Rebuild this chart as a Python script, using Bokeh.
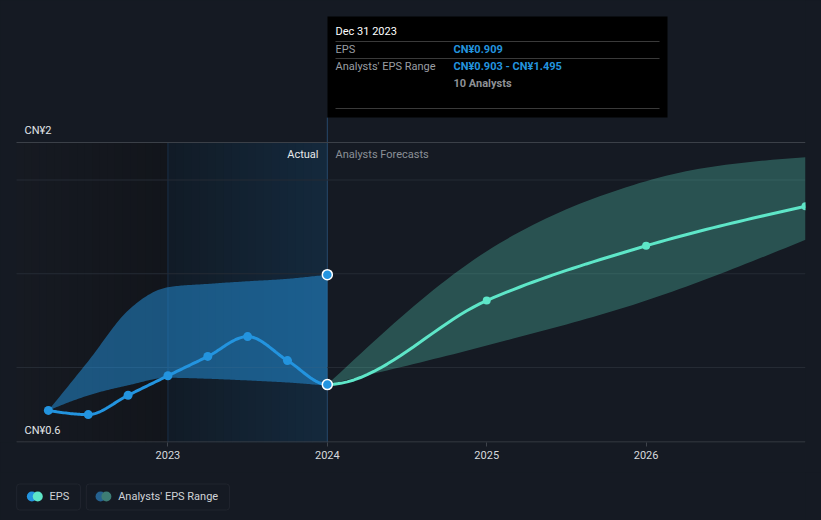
from bokeh.plotting import figure
from bokeh.layouts import column
from bokeh.models import BoxAnnotation, Label, FixedTicker, Range1d, InlineStyleSheet
from bokeh.embed import file_html
from bokeh.resources import INLINE

# ---------------- data ----------------
actual_dates = [2022.25, 2022.5, 2022.75, 2023.0, 2023.25, 2023.5, 2023.75, 2024.0]
actual_eps = [0.771, 0.749, 0.852, 0.956, 1.059, 1.165, 1.037, 0.909]
actual_range_low = [0.771, 0.851, 0.905, 0.945, 0.940, 0.931, 0.920, 0.903]
actual_range_high = [0.771, 1.034, 1.304, 1.428, 1.446, 1.460, 1.473, 1.495]

forecast_dates = [2024.0, 2025.0, 2026.0, 2027.0]
forecast_eps = [0.909, 1.357, 1.649, 1.860]
forecast_low = [0.909, 1.117, 1.357, 1.681]
forecast_high = [0.909, 1.620, 1.994, 2.122]

year_ticks = [2023, 2024, 2025, 2026]
year_labels = ["2023", "2024", "2025", "2026"]
grid_values = [1.0, 1.5, 2.0]
y_top_label = "CN¥2"
y_bottom_label = "CN¥0.6"
tooltip_date = "Dec 31 2023"
analyst_count = 10
legend_labels = ["EPS", "Analysts' EPS Range"]

# ---------------- layout constants ----------------
W = 821
MAIN_H = 472          # frame 0..442 + 30px axis panel
LEG_H = 520 - MAIN_H
FL, FR, FT, FB = 16, 805, 142, 442   # plotting area (pixels)
X0, X1 = 2022.05, 2027.0             # x at FL / FR
Y0, Y1 = 0.6, 2.2                    # y at FB / FT
BG = "#151a23"
FONT = "Roboto"
BLUE = "#2394df"
TEAL = "#5ee6c8"

XPP = (X1 - X0) / (FR - FL)
YPP = (Y1 - Y0) / (FB - FT)

NO_BORDER = InlineStyleSheet(css="""
:host { border: none !important; outline: none !important; box-shadow: none !important; background-color: %s !important; }
canvas, svg, div { border: none !important; outline: none !important; box-shadow: none !important; }
""" % BG)


def dx(px):
    return X0 + (px - FL) * XPP


def dy(py):
    return Y0 + (FB - py) * YPP


def sign(v):
    return -1.0 if v < 0 else 1.0


def monotone(xs, ys, n=24):
    """Monotone cubic (d3 curveMonotoneX style) drawing path through the points."""
    m = len(xs)
    h = [xs[i + 1] - xs[i] for i in range(m - 1)]
    s = [(ys[i + 1] - ys[i]) / h[i] for i in range(m - 1)]
    t = [0.0] * m
    for i in range(1, m - 1):
        s0, s1, h0, h1 = s[i - 1], s[i], h[i - 1], h[i]
        pp = (s0 * h1 + s1 * h0) / (h0 + h1)
        t[i] = (sign(s0) + sign(s1)) * min(abs(s0), abs(s1), 0.5 * abs(pp))
    if m > 2:
        t[0] = (3 * s[0] - t[1]) / 2
        t[-1] = (3 * s[-1] - t[-2]) / 2
    else:
        t[0] = t[-1] = s[0]
    ox, oy = [xs[0]], [ys[0]]
    for i in range(m - 1):
        for k in range(1, n + 1):
            u = k / n
            h00 = 2 * u ** 3 - 3 * u ** 2 + 1
            h10 = u ** 3 - 2 * u ** 2 + u
            h01 = -2 * u ** 3 + 3 * u ** 2
            h11 = u ** 3 - u ** 2
            ox.append(xs[i] + u * h[i])
            oy.append(h00 * ys[i] + h10 * h[i] * t[i] + h01 * ys[i + 1] + h11 * h[i] * t[i + 1])
    return ox, oy


def strip_borders(fig):
    fig.background_fill_color = BG
    fig.border_fill_color = BG
    fig.outline_line_color = None
    fig.styles = {"background-color": BG}
    fig.stylesheets = [NO_BORDER]


# frame spans pixels 0..805 horizontally and 0..442 vertically
p = figure(width=W, height=MAIN_H, output_backend="svg", toolbar_location=None,
           x_range=Range1d(dx(0), X1), y_range=Range1d(Y0, dy(0)),
           y_axis_location=None,
           min_border_left=0, min_border_right=W - FR, min_border_top=0,
           min_border_bottom=MAIN_H - FB)
strip_borders(p)
p.xgrid.visible = False
p.ygrid.visible = False

# x axis
ax = p.xaxis[0]
ax.ticker = FixedTicker(ticks=year_ticks)
ax.major_label_overrides = {t: l for t, l in zip(year_ticks, year_labels)}
ax.axis_line_color = None
ax.major_tick_line_color = "#3e434b"
ax.major_tick_in = 0
ax.major_tick_out = 4
ax.minor_tick_line_color = None
ax.major_label_standoff = 4
ax.major_label_text_color = "#d6d9dd"
ax.major_label_text_font = FONT
ax.major_label_text_font_size = "11px"


# background shading of the past region (gradient via strips)
def lerp_color(c1, c2, f):
    a = [int(c1[i:i + 2], 16) for i in (1, 3, 5)]
    b = [int(c2[i:i + 2], 16) for i in (1, 3, 5)]
    return "#%02x%02x%02x" % tuple(int(round(a[j] + (b[j] - a[j]) * f)) for j in range(3))


NS = 20
for seg_start, seg_end, c1, c2 in [(X0, 2023.0, "#161a22", "#12151b"),
                                   (2023.0, 2024.0, "#111b26", "#14293d")]:
    for k in range(NS):
        l = seg_start + (seg_end - seg_start) * k / NS
        r = seg_start + (seg_end - seg_start) * (k + 1) / NS
        if k < NS - 1:
            r += 1.5 * XPP
        p.add_layout(BoxAnnotation(left=l, right=r, top=Y1, bottom=Y0,
                                   fill_color=lerp_color(c1, c2, (k + 0.5) / NS),
                                   fill_alpha=1.0, line_color=None, level="image"))

# horizontal grid lines, top line and baseline
p.segment(x0=[X0] * len(grid_values), x1=[X1] * len(grid_values), y0=grid_values, y1=grid_values,
          line_color="#252b34", line_width=1)
p.segment(x0=[X0], x1=[X1], y0=[Y1], y1=[Y1], line_color="#3b4048", line_width=1)
p.segment(x0=[X0], x1=[X1], y0=[Y0 + 0.5 * YPP], y1=[Y0 + 0.5 * YPP], line_color="#3e434b", line_width=1)

# faint boundary at 2023 and present line at 2024 (extends up to tooltip)
p.add_layout(BoxAnnotation(left=2023.0 - 0.5 * XPP, right=2023.0 + 0.5 * XPP, top=Y1, bottom=Y0,
                           fill_color="#1a3047", fill_alpha=1.0, line_color=None, level="underlay"))
p.add_layout(BoxAnnotation(left=2024.0 - 0.5 * XPP, right=2024.0 + 0.5 * XPP, top=dy(117), bottom=Y0,
                           fill_color="#27496b", fill_alpha=1.0, line_color=None, level="underlay"))

# bands
bx, blo = monotone(actual_dates, actual_range_low)
_, bhi = monotone(actual_dates, actual_range_high)
p.varea(x=bx, y1=blo, y2=bhi, fill_color=BLUE, fill_alpha=0.5)

fx, flo = monotone(forecast_dates, forecast_low)
_, fhi = monotone(forecast_dates, forecast_high)
p.varea(x=fx, y1=flo, y2=fhi, fill_color=TEAL, fill_alpha=0.28)

# EPS line (one smooth curve, coloured by actual / forecast)
all_x = actual_dates + forecast_dates[1:]
all_y = actual_eps + forecast_eps[1:]
lx, ly_ = monotone(all_x, all_y)
split = actual_dates[-1]
act_x = [x for x in lx if x <= split + 1e-9]
act_y = [y for x, y in zip(lx, ly_) if x <= split + 1e-9]
fc_x = [x for x in lx if x >= split - 1e-9]
fc_y = [y for x, y in zip(lx, ly_) if x >= split - 1e-9]
p.line(act_x, act_y, line_color=BLUE, line_width=3)
p.line(fc_x, fc_y, line_color=TEAL, line_width=3)

p.scatter(actual_dates[:-1], actual_eps[:-1], size=9, fill_color=BLUE, line_color=None)
p.scatter(forecast_dates[1:], forecast_eps[1:], size=8, fill_color=TEAL, line_color=None)
p.scatter([actual_dates[-1], actual_dates[-1]], [actual_eps[-1], actual_range_high[-1]], size=10,
          fill_color=BLUE, line_color="white", line_width=1.5)


def add_text(fig, x, y, text, color, size="11px", align="left", bold=False, level="annotation"):
    fig.add_layout(Label(x=x, y=y, text=text, text_color=color, text_font_size=size,
                         text_font=FONT, text_align=align, text_baseline="middle",
                         text_font_style="bold" if bold else "normal", level=level))


# region labels
add_text(p, dx(318), dy(154), "Actual", "#e8eaec", align="right")
add_text(p, dx(335), dy(154), "Analysts Forecasts", "#8b9097")

# y labels
add_text(p, dx(24), dy(130), y_top_label, "#e2e5e8")
add_text(p, dx(24), dy(430), y_bottom_label, "#e2e5e8")

# tooltip
p.add_layout(BoxAnnotation(left=dx(327), right=dx(667), top=dy(16), bottom=dy(117),
                           fill_color="#000000", fill_alpha=1.0, line_color=None, level="overlay"))
for ly_px in (41, 58, 108):
    p.add_layout(BoxAnnotation(left=dx(335), right=dx(659), top=dy(ly_px - 0.5), bottom=dy(ly_px + 0.5),
                               fill_color="#3a3a3a", fill_alpha=1.0, line_color=None, level="overlay"))
add_text(p, dx(335), dy(31), tooltip_date, "#ffffff", level="overlay")
add_text(p, dx(335), dy(49), "EPS", "#9a9ea3", level="overlay")
add_text(p, dx(453), dy(49), "CN¥%.3f" % actual_eps[-1], BLUE, bold=True, level="overlay")
add_text(p, dx(335), dy(66), "Analysts' EPS Range", "#9a9ea3", level="overlay")
add_text(p, dx(453), dy(66), "CN¥%.3f - CN¥%.3f" % (actual_range_low[-1], actual_range_high[-1]), BLUE,
         bold=True, level="overlay")
add_text(p, dx(453), dy(83), "%d Analysts" % analyst_count, "#8e9196", bold=True, level="overlay")

# ---------------- legend figure (pixel coordinates) ----------------
leg = figure(width=W, height=LEG_H, output_backend="svg", toolbar_location=None,
             x_range=Range1d(0, W), y_range=Range1d(0, LEG_H),
             x_axis_location=None, y_axis_location=None,
             min_border_left=0, min_border_right=0, min_border_top=0, min_border_bottom=0)
strip_borders(leg)
leg.xgrid.visible = False
leg.ygrid.visible = False


def ly(py):  # absolute page pixel -> legend figure y
    return MAIN_H + LEG_H - py


for (l, r) in [(16, 81), (87, 233)]:
    leg.add_layout(BoxAnnotation(left=l + 0.5, right=r + 0.5, top=ly(483.5), bottom=ly(509.5),
                                 fill_alpha=0.0, line_color="#3a4049", line_width=1, border_radius=3))
leg.scatter([32, 102], [ly(496)] * 2, size=10, fill_color=[BLUE, "#25618f"], line_color=None)
leg.scatter([38, 108], [ly(496)] * 2, size=10, fill_color=[TEAL, "#3d7c74"], line_color=None)
add_text(leg, 50, ly(496), legend_labels[0], "#d0d3d7")
add_text(leg, 120, ly(496), legend_labels[1], "#d0d3d7")

layout = column(p, leg, spacing=0)
layout.styles = {"background-color": BG}
layout.stylesheets = [NO_BORDER]
open("out.html", "w").write(file_html(layout, INLINE))
